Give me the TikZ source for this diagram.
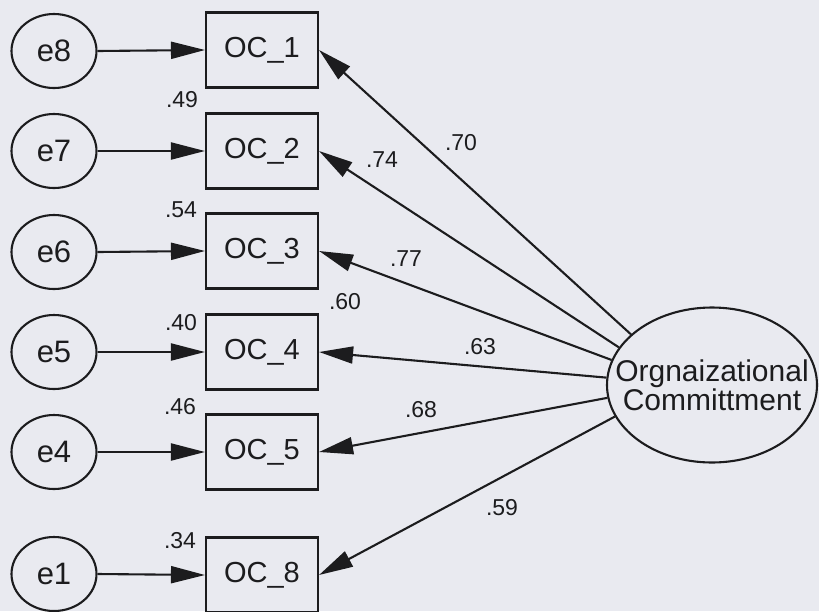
\documentclass[tikz,border=0pt]{standalone}
\usepackage{fontspec}
\setmainfont{Liberation Sans}
\usetikzlibrary{arrows.meta,shapes.geometric}
\definecolor{paper}{RGB}{233,234,240}
\definecolor{ink}{RGB}{28,28,30}
\begin{document}
\begin{tikzpicture}[x=1pt,y=-1pt,
  every node/.style={text=ink},
  errvar/.style={ellipse, draw=ink, line width=2.1pt, fill=paper,
    minimum width=85pt, minimum height=74pt, inner sep=0pt,
    font=\fontsize{31}{31}\selectfont},
  indicator/.style={rectangle, draw=ink, line width=2.1pt, fill=paper,
    minimum width=112pt, minimum height=75pt, inner sep=0pt,
    font=\fontsize{29}{29}\selectfont},
  latent/.style={ellipse, draw=ink, line width=2.1pt, fill=paper,
    minimum width=210pt, minimum height=155pt, inner xsep=-30pt, inner ysep=0pt,
    align=center, font=\fontsize{30}{25}\selectfont},
  regpath/.style={draw=ink, line width=2.1pt, -{Triangle[length=34pt,width=17pt]}},
  coef/.style={font=\fontsize{23}{23}\selectfont, inner sep=0pt}
]
\useasboundingbox[fill=paper] (0,0) rectangle (819,611);

% error terms
\node[errvar] (e8) at (54,51) {e8};
\node[errvar] (e7) at (54,151) {e7};
\node[errvar] (e6) at (54,252) {e6};
\node[errvar] (e5) at (54,352) {e5};
\node[errvar] (e4) at (54,452) {e4};
\node[errvar] (e1) at (54,574) {e1};

% observed indicators
\node[indicator] (oc1) at (262,50) {OC\_1};
\node[indicator] (oc2) at (262,151) {OC\_2};
\node[indicator] (oc3) at (262,251) {OC\_3};
\node[indicator] (oc4) at (262,352) {OC\_4};
\node[indicator] (oc5) at (262,452) {OC\_5};
\node[indicator] (oc8) at (262,575) {OC\_8};

% latent factor
\node[latent] (oc) at (712,385) {Orgnaizational\\Committment};

% error paths
\draw[regpath] (e8.east) -- (oc1.west);
\draw[regpath] (e7.east) -- (oc2.west);
\draw[regpath] (e6.east) -- (oc3.west);
\draw[regpath] (e5.east) -- (oc4.west);
\draw[regpath] (e4.east) -- (oc5.west);
\draw[regpath] (e1.east) -- (oc8.west);

% factor loadings
\draw[regpath] (oc.148) -- (oc1.east);
\draw[regpath] (oc.158) -- (oc2.east);
\draw[regpath] (oc.166.5) -- (oc3.east);
\draw[regpath] (oc.176) -- (oc4.east);
\draw[regpath] (oc.187) -- (oc5.east);
\draw[regpath] (oc.198) -- (oc8.east);

% standardized loadings
\node[coef] (l1) at (461,143) {.70};
\node[coef] (l2) at (382,160) {.74};
\node[coef] (l3) at (406,259) {.77};
\node[coef] (l4) at (480,347) {.63};
\node[coef] (l5) at (421,410) {.68};
\node[coef] (l8) at (502,508) {.59};

% squared multiple correlations
\node[coef] (r2) at (182,100) {.49};
\node[coef] (r3) at (181,210) {.54};
\node[coef] (r4) at (345,302) {.60};
\node[coef] (r5) at (181,323) {.40};
\node[coef] (r6) at (180,407) {.46};
\node[coef] (r8) at (180,541) {.34};
\end{tikzpicture}
\end{document}
